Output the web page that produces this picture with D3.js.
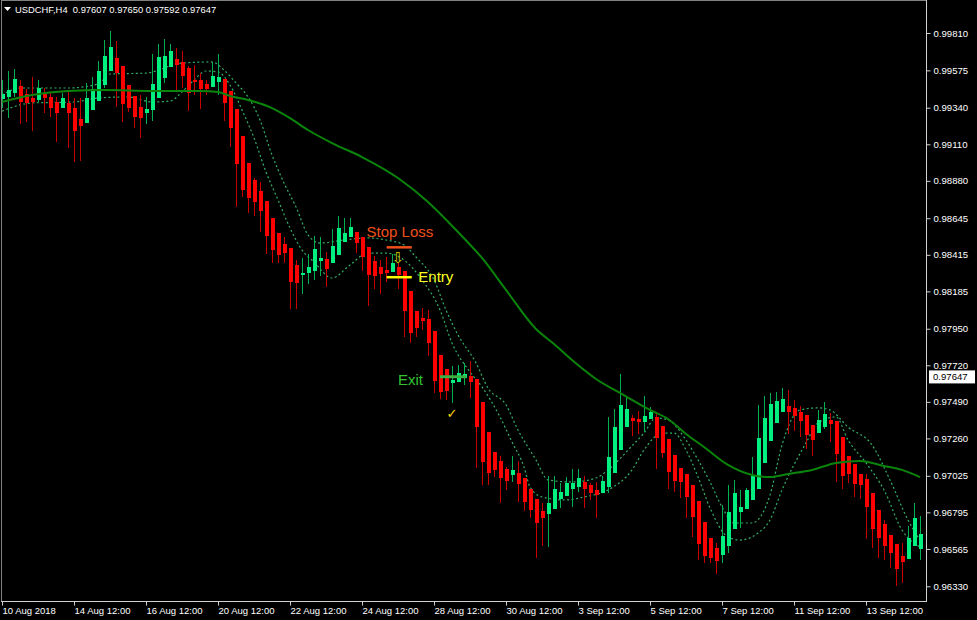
<!DOCTYPE html>
<html><head><meta charset="utf-8">
<script src="https://cdn.jsdelivr.net/npm/d3@7"></script>
<style>
html,body{margin:0;padding:0;background:#000;overflow:hidden}
svg{display:block}
text{font-family:"Liberation Sans",Arial,sans-serif}
</style></head><body>
<svg id="c" width="977" height="620"></svg>
<script>
// ---- data (H4 candles, USDCHF) ----
const opens=[0.99394,0.99409,0.99430,0.99476,0.99424,0.99399,0.99386,0.99424,0.99409,0.99373,0.99340,0.99371,0.99340,0.99269,0.99246,0.99323,0.99382,0.99483,0.99573,0.99650,0.99602,0.99483,0.99413,0.99346,0.99306,0.99323,0.99403,0.99529,0.99594,0.99647,0.99628,0.99588,0.99514,0.99514,0.99489,0.99470,0.99504,0.99519,0.99445,0.99332,0.99162,0.98994,0.98885,0.98816,0.98755,0.98648,0.98550,0.98485,0.98460,0.98353,0.98290,0.98298,0.98315,0.98376,0.98387,0.98362,0.98414,0.98498,0.98525,0.98559,0.98525,0.98462,0.98378,0.98336,0.98320,0.98309,0.98341,0.98315,0.98190,0.98062,0.98016,0.98011,0.97936,0.97785,0.97695,0.97607,0.97617,0.97642,0.97655,0.97634,0.97491,0.97302,0.97174,0.97118,0.97065,0.97028,0.97044,0.97009,0.96942,0.96877,0.96803,0.96784,0.96818,0.96877,0.96900,0.96940,0.96956,0.96984,0.96967,0.96935,0.96918,0.96952,0.97044,0.97187,0.97329,0.97386,0.97382,0.97365,0.97384,0.97396,0.97338,0.97254,0.97155,0.97076,0.97036,0.96967,0.96868,0.96736,0.96631,0.96572,0.96530,0.96585,0.96690,0.96799,0.96818,0.96872,0.96945,0.97103,0.97243,0.97359,0.97424,0.97466,0.97451,0.97428,0.97405,0.97344,0.97296,0.97333,0.97375,0.97369,0.97271,0.97149,0.97099,0.97036,0.97008,0.96914,0.96809,0.96721,0.96652,0.96595,0.96520,0.96501,0.96585,0.96562];
const highs=[0.99514,0.99571,0.99583,0.99514,0.99457,0.99535,0.99514,0.99462,0.99430,0.99409,0.99430,0.99441,0.99399,0.99399,0.99497,0.99533,0.99634,0.99766,0.99822,0.99759,0.99602,0.99483,0.99413,0.99420,0.99409,0.99675,0.99740,0.99770,0.99741,0.99714,0.99699,0.99603,0.99609,0.99556,0.99514,0.99630,0.99678,0.99519,0.99445,0.99332,0.99162,0.98994,0.98900,0.98875,0.98755,0.98648,0.98550,0.98529,0.98460,0.98382,0.98393,0.98420,0.98534,0.98529,0.98435,0.98575,0.98659,0.98645,0.98645,0.98559,0.98525,0.98462,0.98408,0.98383,0.98404,0.98420,0.98362,0.98315,0.98190,0.98062,0.98078,0.98068,0.97936,0.97785,0.97695,0.97718,0.97722,0.97732,0.97749,0.97634,0.97491,0.97302,0.97174,0.97149,0.97082,0.97149,0.97118,0.97009,0.96942,0.96877,0.96856,0.97024,0.97024,0.96977,0.97019,0.97065,0.97065,0.97024,0.96977,0.96988,0.97023,0.97392,0.97443,0.97665,0.97522,0.97407,0.97432,0.97526,0.97455,0.97417,0.97338,0.97254,0.97155,0.97076,0.97036,0.96967,0.96868,0.96736,0.96631,0.96600,0.96841,0.96967,0.96998,0.96935,0.96946,0.97141,0.97470,0.97528,0.97543,0.97549,0.97579,0.97564,0.97501,0.97466,0.97405,0.97344,0.97438,0.97487,0.97422,0.97369,0.97271,0.97149,0.97099,0.97036,0.97036,0.96914,0.96809,0.96746,0.96652,0.96595,0.96600,0.96711,0.96851,0.96771];
const lows=[0.99336,0.99273,0.99409,0.99235,0.99252,0.99193,0.99378,0.99304,0.99283,0.99122,0.99340,0.99084,0.99000,0.99004,0.99246,0.99323,0.99382,0.99462,0.99573,0.99346,0.99248,0.99311,0.99210,0.99147,0.99235,0.99256,0.99403,0.99493,0.99594,0.99441,0.99462,0.99322,0.99420,0.99330,0.99420,0.99470,0.99420,0.99259,0.99095,0.98718,0.98781,0.98676,0.98659,0.98560,0.98418,0.98361,0.98361,0.98361,0.98072,0.98072,0.98168,0.98231,0.98257,0.98282,0.98211,0.98362,0.98414,0.98498,0.98525,0.98424,0.98315,0.98093,0.98198,0.98169,0.98246,0.98309,0.98198,0.97896,0.97862,0.97900,0.97942,0.97779,0.97548,0.97506,0.97502,0.97481,0.97617,0.97596,0.97516,0.97072,0.96967,0.96967,0.97019,0.96852,0.96935,0.96988,0.96858,0.96806,0.96757,0.96510,0.96583,0.96575,0.96818,0.96823,0.96900,0.96831,0.96925,0.96823,0.96873,0.96757,0.96918,0.96918,0.97044,0.97187,0.97329,0.97275,0.97287,0.97302,0.97384,0.97067,0.97138,0.96939,0.96925,0.96887,0.96757,0.96642,0.96495,0.96474,0.96478,0.96407,0.96474,0.96541,0.96690,0.96694,0.96818,0.96872,0.96945,0.97103,0.97243,0.97359,0.97424,0.97287,0.97308,0.97266,0.97191,0.97149,0.97296,0.97317,0.97239,0.96987,0.96945,0.96977,0.96893,0.96876,0.96625,0.96568,0.96509,0.96495,0.96442,0.96333,0.96348,0.96501,0.96585,0.96495];
const closes=[0.99424,0.99451,0.99520,0.99378,0.99367,0.99373,0.99462,0.99399,0.99340,0.99304,0.99399,0.99308,0.99193,0.99227,0.99403,0.99455,0.99573,0.99667,0.99724,0.99556,0.99361,0.99340,0.99283,0.99273,0.99332,0.99487,0.99661,0.99665,0.99697,0.99611,0.99542,0.99431,0.99502,0.99458,0.99460,0.99540,0.99535,0.99368,0.99215,0.98986,0.98822,0.98774,0.98749,0.98692,0.98535,0.98445,0.98411,0.98428,0.98242,0.98235,0.98302,0.98336,0.98450,0.98393,0.98326,0.98471,0.98586,0.98550,0.98588,0.98492,0.98404,0.98288,0.98282,0.98295,0.98303,0.98366,0.98288,0.98064,0.97925,0.97957,0.98001,0.97858,0.97621,0.97554,0.97561,0.97628,0.97674,0.97665,0.97617,0.97334,0.97114,0.97044,0.97061,0.97009,0.96994,0.97061,0.96975,0.96862,0.96810,0.96730,0.96761,0.96856,0.96942,0.96921,0.96977,0.96977,0.97009,0.96942,0.96914,0.96906,0.96992,0.97141,0.97334,0.97470,0.97443,0.97369,0.97363,0.97401,0.97428,0.97264,0.97170,0.97050,0.96992,0.96987,0.96893,0.96763,0.96595,0.96522,0.96509,0.96488,0.96648,0.96799,0.96918,0.96830,0.96935,0.97023,0.97264,0.97390,0.97476,0.97495,0.97507,0.97426,0.97403,0.97371,0.97281,0.97250,0.97375,0.97411,0.97350,0.97164,0.97025,0.97036,0.96971,0.96966,0.96830,0.96690,0.96631,0.96585,0.96537,0.96438,0.96484,0.96635,0.96761,0.96662];

// slow moving average [bar, price]
const maPoints=[[0,0.99376],[5,0.99420],[11,0.99445],[17,0.99451],[25,0.99445],[33,0.99445],[36,0.99439],[38,0.99414],[41,0.99389],[45,0.99338],[48,0.99275],[51,0.99200],[55,0.99118],[60,0.99030],[66,0.98898],[71,0.98747],[76,0.98558],[80,0.98395],[84,0.98194],[89,0.97948],[92,0.97854],[95,0.97753],[99,0.97634],[103,0.97546],[108,0.97439],[111,0.97382],[114,0.97288],[117,0.97206],[121,0.97093],[125,0.97030],[128,0.97017],[131,0.97036],[135,0.97062],[139,0.97106],[143,0.97118],[147,0.97087],[150,0.97062],[153,0.97017]];
// channel bands [bar, price]
const upperBand=[[0,0.99420],[3,0.99464],[11,0.99464],[16,0.99489],[18,0.99552],[24,0.99558],[30,0.99621],[35,0.99628],[37,0.99577],[39,0.99496],[41,0.99408],[43,0.99263],[45,0.99043],[47,0.98867],[49,0.98716],[51,0.98540],[53,0.98489],[57,0.98508],[61,0.98521],[64,0.98508],[67,0.98477],[69,0.98401],[72,0.98257],[74,0.98068],[76,0.97911],[79,0.97735],[81,0.97577],[84,0.97471],[86,0.97313],[89,0.97125],[91,0.96999],[95,0.96986],[99,0.97011],[101,0.97062],[105,0.97213],[107,0.97294],[109,0.97389],[111,0.97376],[114,0.97250],[116,0.97125],[118,0.96986],[120,0.96829],[122,0.96728],[125,0.96728],[128,0.96904],[130,0.97219],[133,0.97439],[136,0.97452],[138,0.97439],[141,0.97332],[145,0.97219],[148,0.96999],[151,0.96747],[153,0.96621]];
const lowerBand=[[0,0.99319],[5,0.99370],[12,0.99376],[16,0.99401],[21,0.99408],[25,0.99376],[28,0.99382],[30,0.99439],[32,0.99514],[34,0.99571],[36,0.99565],[38,0.99483],[40,0.99326],[42,0.99150],[44,0.98936],[46,0.98760],[48,0.98584],[50,0.98445],[52,0.98370],[55,0.98269],[58,0.98351],[61,0.98426],[64,0.98426],[67,0.98382],[70,0.98257],[73,0.98068],[75,0.97860],[78,0.97678],[80,0.97584],[83,0.97395],[85,0.97238],[87,0.97081],[88,0.96955],[90,0.96892],[94,0.96873],[97,0.96892],[101,0.96936],[105,0.97062],[107,0.97187],[110,0.97294],[112,0.97294],[114,0.97187],[116,0.97018],[118,0.96823],[121,0.96640],[123,0.96621],[126,0.96665],[128,0.96747],[130,0.96936],[134,0.97232],[136,0.97357],[139,0.97395],[141,0.97250],[144,0.97106],[147,0.96936],[150,0.96684],[153,0.96577]];

const xTickBars=[0,12,24,36,48,60,72,84,96,108,120,132,144];
const xTickLabels=["10 Aug 2018","14 Aug 12:00","16 Aug 12:00","20 Aug 12:00","22 Aug 12:00","24 Aug 12:00","28 Aug 12:00","30 Aug 12:00","3 Sep 12:00","5 Sep 12:00","7 Sep 12:00","11 Sep 12:00","13 Sep 12:00"];
const yTickValues=[0.99810,0.99575,0.99340,0.99110,0.98880,0.98645,0.98415,0.98185,0.97950,0.97720,0.97490,0.97260,0.97025,0.96795,0.96565,0.96330];

const titleText="USDCHF,H4  0.97607 0.97650 0.97592 0.97647";
const currentPrice=0.97647;

// trade levels
const levelNames=["Stop Loss","Entry","Exit"];
const levelPrices=[0.98462,0.98274,0.97648];
const levelFrom=[64.1,64.1,73.0];
const levelTo=[68.3,68.3,77.4];
const levelColors=["#ee4f1c","#ffff00","#3cb043"];
const levelTextColors=["#f0501a","#ffff20","#33c433"];
const arrowMark={bar:66,price:0.98398};
const checkMark={bar:75,price:0.97420};

// ---- drawing ----
const W=977,H=620, plotR=926, plotB=601;
const svg=d3.select("#c");
svg.append("rect").attr("width",W).attr("height",H).attr("fill","#000");

const x=d3.scaleLinear().domain([0,153]).range([2,920]);
const y=d3.scaleLinear().domain([0.96330,0.99810]).range([586.3,33]);

svg.append("defs").append("clipPath").attr("id","clip")
  .append("rect").attr("x",2).attr("y",1).attr("width",plotR-2).attr("height",plotB-1);
const plot=svg.append("g").attr("clip-path","url(#clip)");

const lineGen=d3.line().x(d=>x(d[0])).y(d=>y(d[1])).curve(d3.curveMonotoneX);

// bands (dotted)
[upperBand,lowerBand].forEach(b=>{
  plot.append("path").attr("d",lineGen(b)).attr("fill","none")
    .attr("stroke","#34b068").attr("stroke-width",1.2).attr("stroke-dasharray","2,2.5");
});

// candles
const bars=d3.range(opens.length).map(i=>({i,o:opens[i],h:highs[i],l:lows[i],c:closes[i]}));
const cg=plot.append("g").attr("shape-rendering","crispEdges");
cg.selectAll("line.w").data(bars).join("line").attr("class","w")
  .attr("x1",d=>Math.round(x(d.i))+0.5).attr("x2",d=>Math.round(x(d.i))+0.5)
  .attr("y1",d=>y(d.h)).attr("y2",d=>y(d.l))
  .attr("stroke",d=>d.c>=d.o?"#00b050":"#c80000").attr("stroke-width",1);
cg.selectAll("rect.b").data(bars).join("rect").attr("class","b")
  .attr("x",d=>Math.round(x(d.i))-1).attr("width",4)
  .attr("y",d=>y(Math.max(d.o,d.c)))
  .attr("height",d=>Math.max(1,Math.abs(y(d.o)-y(d.c))))
  .attr("fill",d=>d.c>=d.o?"#00f080":"#ff0000");

// moving average
plot.append("path").attr("d",lineGen(maPoints)).attr("fill","none")
  .attr("stroke","#0a840a").attr("stroke-width",2);

// trade levels
levelNames.forEach((name,k)=>{
  const ly=y(levelPrices[k]), x0=x(levelFrom[k]), x1=x(levelTo[k]);
  svg.append("line").attr("x1",x0).attr("x2",x1).attr("y1",ly).attr("y2",ly)
    .attr("stroke",levelColors[k]).attr("stroke-width",k===2?3:2.5);
  const t=svg.append("text").text(name).attr("fill",levelTextColors[k]).attr("font-size",15);
  if(k===0) t.attr("x",x0-20).attr("y",ly-10);
  else if(k===1) t.attr("x",x1+6.5).attr("y",ly+5);
  else t.attr("x",x0-17).attr("y",ly+8).attr("text-anchor","end");
});
svg.append("text").text("⇩").attr("x",x(arrowMark.bar)).attr("y",y(arrowMark.price)+6)
  .attr("text-anchor","middle").attr("fill","#d8d800").attr("font-size",15)
  .style("font-family","DejaVu Sans");
svg.append("text").text("✓").attr("x",x(checkMark.bar)).attr("y",y(checkMark.price)+5)
  .attr("text-anchor","middle").attr("fill","#ffd700").attr("font-size",13)
  .attr("font-weight","bold").style("font-family","DejaVu Sans");

// frame
svg.append("line").attr("x1",1.5).attr("x2",1.5).attr("y1",0).attr("y2",plotB).attr("stroke","#808080");
svg.append("line").attr("x1",1).attr("x2",plotR).attr("y1",0.5).attr("y2",0.5).attr("stroke","#808080");
svg.append("line").attr("x1",plotR+0.5).attr("x2",plotR+0.5).attr("y1",0).attr("y2",plotB+0.5).attr("stroke","#d0d0d0");
svg.append("line").attr("x1",1).attr("x2",plotR+1).attr("y1",plotB+0.5).attr("y2",plotB+0.5).attr("stroke","#d0d0d0");

// y axis
const yAxis=svg.append("g").attr("transform",`translate(${plotR+0.5},0)`)
  .call(d3.axisRight(y).tickValues(yTickValues).tickFormat(d3.format(".5f")).tickSize(4).tickPadding(3));
yAxis.select(".domain").remove();
yAxis.selectAll("line").attr("stroke","#d0d0d0");
yAxis.selectAll("text").attr("fill","#fff").attr("font-size",9.6).style("font-family","Liberation Sans, Arial, sans-serif");

// current price box
const cpy=y(currentPrice);
svg.append("rect").attr("x",929).attr("y",cpy-6.5).attr("width",46).attr("height",13).attr("fill","#fff");
svg.append("text").text(d3.format(".5f")(currentPrice)).attr("x",933).attr("y",cpy+3.5)
  .attr("fill","#000").attr("font-size",9.6);

// x axis
const xAxis=svg.append("g").attr("transform",`translate(0,${plotB+0.5})`)
  .call(d3.axisBottom(x).tickValues(xTickBars).tickFormat((d,i)=>xTickLabels[i]).tickSize(4).tickPadding(1.5));
xAxis.select(".domain").remove();
xAxis.selectAll("line").attr("stroke","#d0d0d0");
xAxis.selectAll("text").attr("fill","#fff").attr("font-size",9.5).attr("text-anchor","start")
  .style("font-family","Liberation Sans, Arial, sans-serif");

// title
svg.append("path").attr("d","M4,7 L11,7 L7.5,11 Z").attr("fill","#fff");
svg.append("text").text(titleText).attr("x",15).attr("y",13).attr("fill","#fff")
  .attr("font-size",9.4).style("white-space","pre").attr("xml:space","preserve");
</script>
</body></html>
